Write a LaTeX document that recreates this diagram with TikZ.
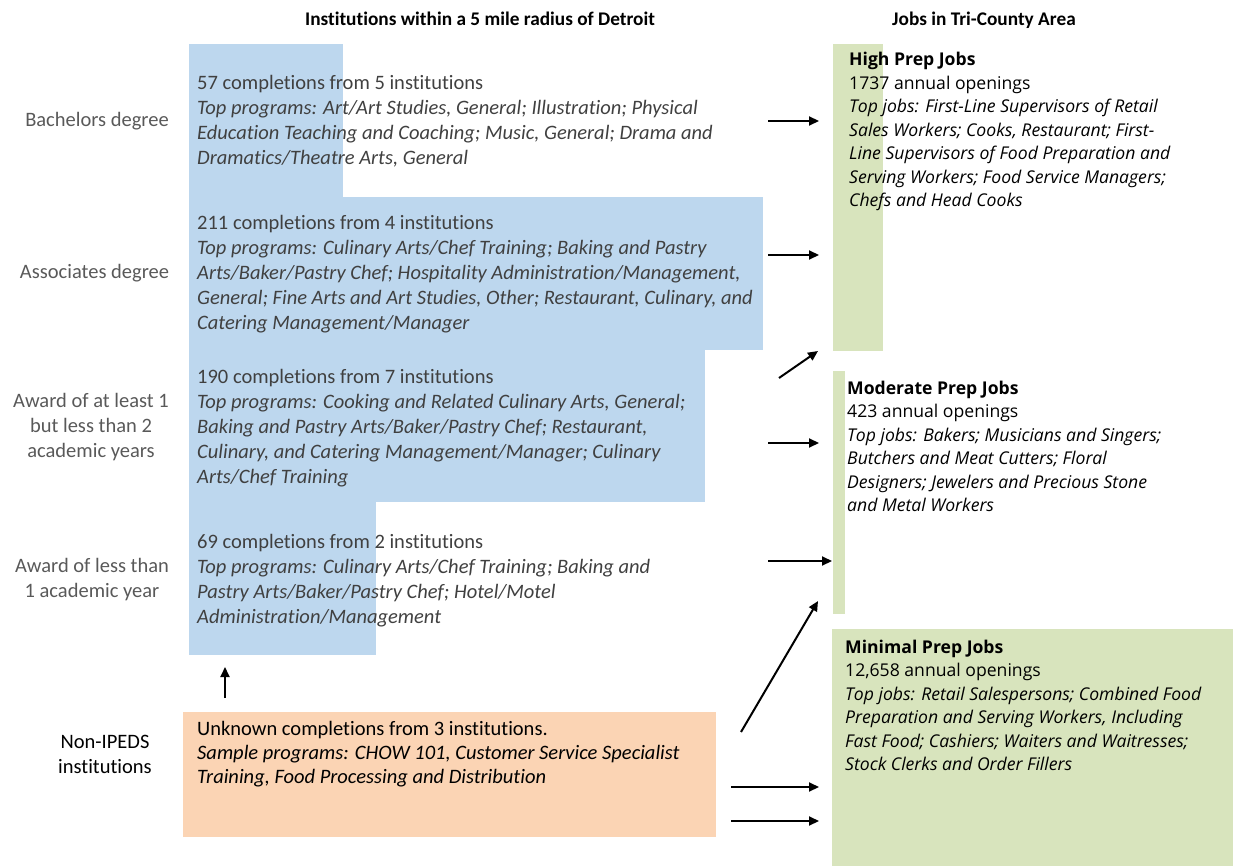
\documentclass[tikz,border=0pt]{standalone}
\usepackage{fontspec}
\setmainfont{Carlito}[Ligatures=NoCommon]
\newfontfamily\jobfont{Open Sans}
\usetikzlibrary{arrows.meta}
\definecolor{blueB}{HTML}{BDD7EE}
\definecolor{greenB}{HTML}{D8E4BD}
\definecolor{orangeB}{HTML}{FBD4B4}
\definecolor{grayL}{HTML}{595959}
\definecolor{grayT}{HTML}{404040}
\tikzset{
  bluebox/.style={fill=blueB, draw=none},
  greenbox/.style={fill=greenB, draw=none},
  orangebox/.style={fill=orangeB, draw=none},
  blocktext/.style={anchor=base west, align=left, inner sep=0pt, text=grayT, font=\fontsize{20.5}{25}\selectfont},
  jobtext/.style={anchor=base west, align=left, inner sep=0pt, text=black, font=\jobfont\fontsize{17.6}{23.5}\selectfont},
  lefttext/.style={anchor=base, align=center, inner sep=0pt, text=grayL, font=\fontsize{20.5}{25}\selectfont},
  header/.style={anchor=base, inner sep=0pt, font=\bfseries\fontsize{19.3}{22}\selectfont},
  conn/.style={-{Triangle[length=10pt,width=9pt]}, line width=2pt, black}
}
\begin{document}
\begin{tikzpicture}[x=1pt,y=-1pt]
\useasboundingbox (0,0) rectangle (1233,866);
% blue shapes
\path[bluebox] (189,44) rectangle (343,198);
\path[bluebox] (189,197) rectangle (763,350);
\path[bluebox] (189,349) rectangle (705,502);
\path[bluebox] (189,501) rectangle (376,655);
% orange
\path[orangebox] (183,712) rectangle (716,837);
% green
\path[greenbox] (833,44) rectangle (883,351);
\path[greenbox] (833,371) rectangle (845,614);
\path[greenbox] (832,629) rectangle (1233,866);

% headers
\node[header] (h1) at (480,26) {Institutions within a 5 mile radius of Detroit};
\node[header] (h2) at (984,26) {Jobs in Tri-County Area};

% left labels (base = last line)
\node[lefttext] (lab1) at (97,127) {Bachelors degree};
\node[lefttext] (lab2) at (94.5,279) {Associates degree};
\node[lefttext] (lab3) at (91,457) {Award of at least 1\\but less than 2\\academic years};
\node[lefttext] (lab4) at (92,597) {Award of less than\\1 academic year};
\node[lefttext, text=black] (lab5) at (105,773) {Non-IPEDS\\institutions};

% block texts (base = last line)
\node[blocktext] (t1) at (197,165) {57 completions from 5 institutions\\
\textit{Top programs: Art/Art Studies, General; Illustration; Physical}\\
\textit{Education Teaching and Coaching; Music, General; Drama and}\\
\textit{Dramatics/Theatre Arts, General}};
\node[blocktext] (t2) at (197,330) {211 completions from 4 institutions\\
\textit{Top programs: Culinary Arts/Chef Training; Baking and Pastry}\\
\textit{Arts/Baker/Pastry Chef; Hospitality Administration/Management,}\\
\textit{General; Fine Arts and Art Studies, Other; Restaurant, Culinary, and}\\
\textit{Catering Management/Manager}};
\node[blocktext] (t3) at (197,483) {190 completions from 7 institutions\\
\textit{Top programs: Cooking and Related Culinary Arts, General;}\\
\textit{Baking and Pastry Arts/Baker/Pastry Chef; Restaurant,}\\
\textit{Culinary, and Catering Management/Manager; Culinary}\\
\textit{Arts/Chef Training}};
\node[blocktext] (t4) at (197,623) {69 completions from 2 institutions\\
\textit{Top programs: Culinary Arts/Chef Training; Baking and}\\
\textit{Pastry Arts/Baker/Pastry Chef; Hotel/Motel}\\
\textit{Administration/Management}};
\node[blocktext, text=black, font=\fontsize{20.5}{24}\selectfont] (t5) at (197,783) {Unknown completions from 3 institutions.\\
\textit{Sample programs: CHOW 101, Customer Service Specialist}\\
\textit{Training, Food Processing and Distribution}};

% job texts (base = last line)
\node[jobtext] (j1) at (849,207) {\textbf{High Prep Jobs}\\
1737 annual openings\\
\textit{Top jobs: First-Line Supervisors of Retail}\\
\textit{Sales Workers; Cooks, Restaurant; First-}\\
\textit{Line Supervisors of Food Preparation and}\\
\textit{Serving Workers; Food Service Managers;}\\
\textit{Chefs and Head Cooks}};
\node[jobtext] (j2) at (847,511.5) {\textbf{Moderate Prep Jobs}\\
423 annual openings\\
\textit{Top jobs: Bakers; Musicians and Singers;}\\
\textit{Butchers and Meat Cutters; Floral}\\
\textit{Designers; Jewelers and Precious Stone}\\
\textit{and Metal Workers}};
\node[jobtext] (j3) at (845,770.5) {\textbf{Minimal Prep Jobs}\\
12,658 annual openings\\
\textit{Top jobs: Retail Salespersons; Combined Food}\\
\textit{Preparation and Serving Workers, Including}\\
\textit{Fast Food; Cashiers; Waiters and Waitresses;}\\
\textit{Stock Clerks and Order Fillers}};

% arrow end points
\coordinate (a1s) at (768,121); \coordinate (a1e) at (819,121);
\coordinate (a2s) at (768,255); \coordinate (a2e) at (819,255);
\coordinate (a3s) at (779,378); \coordinate (a3e) at (818,351);
\coordinate (a4s) at (768,443); \coordinate (a4e) at (819,443);
\coordinate (a5s) at (768,561); \coordinate (a5e) at (832,561);
\coordinate (a6s) at (741,732); \coordinate (a6e) at (818,601);
\coordinate (a7s) at (731,787); \coordinate (a7e) at (819,787);
\coordinate (a8s) at (731,821); \coordinate (a8e) at (819,821);
\coordinate (a9s) at (225,698); \coordinate (a9e) at (225,667);

\draw[conn] (a1s) -- (a1e);
\draw[conn] (a2s) -- (a2e);
\draw[conn] (a3s) -- (a3e);
\draw[conn] (a4s) -- (a4e);
\draw[conn] (a5s) -- (a5e);
\draw[conn] (a6s) -- (a6e);
\draw[conn] (a7s) -- (a7e);
\draw[conn] (a8s) -- (a8e);
\draw[conn] (a9s) -- (a9e);
\end{tikzpicture}
\end{document}
